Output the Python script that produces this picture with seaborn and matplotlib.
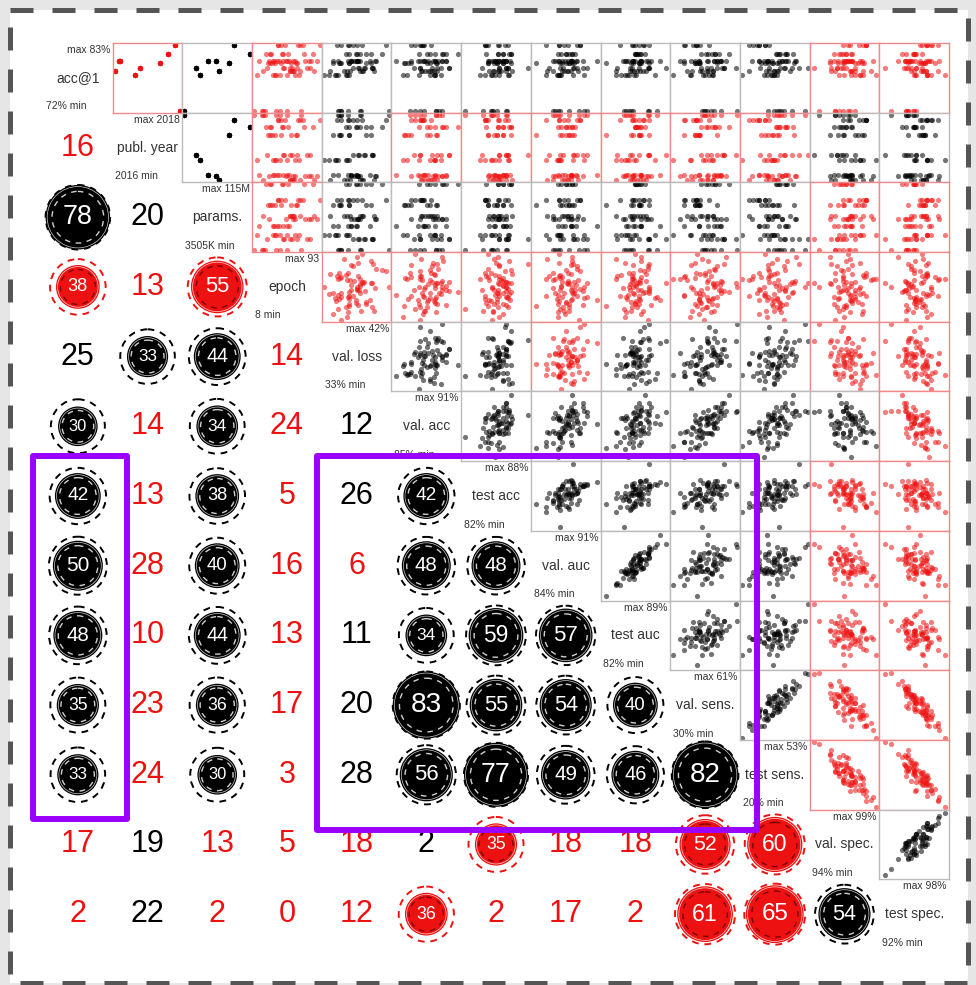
import matplotlib
matplotlib.use("Agg")
import matplotlib.pyplot as plt
from matplotlib.patches import Circle, Rectangle
import pandas as pd
import seaborn as sns

# ---------------------------------------------------------------- variables
VARIABLES = ["acc@1", "publ. year", "params.", "epoch", "val. loss", "val. acc",
             "test acc", "val. auc", "test auc", "val. sens.", "test sens.",
             "val. spec.", "test spec."]
RANGE_MIN = [72, 2016, 3.505, 8, 33, 85, 82, 84, 82, 30, 20, 94, 92]
RANGE_MAX = [83, 2018, 115, 93, 42, 91, 88, 91, 89, 61, 53, 99, 98]
MAX_LABELS = ["max 83%", "max 2018", "max 115M", "max 93", "max 42%", "max 91%",
              "max 88%", "max 91%", "max 89%", "max 61%", "max 53%", "max 99%",
              "max 98%"]
MIN_LABELS = ["72% min", "2016 min", "3505K min", "8 min", "33% min", "85% min",
              "82% min", "84% min", "82% min", "30% min", "20% min", "94% min",
              "92% min"]

# |correlation| x 100, lower triangle (row i holds columns 0..i-1)
CORR = [
    [],
    [16],
    [78, 20],
    [38, 13, 55],
    [25, 33, 44, 14],
    [30, 14, 34, 24, 12],
    [42, 13, 38, 5, 26, 42],
    [50, 28, 40, 16, 6, 48, 48],
    [48, 10, 44, 13, 11, 34, 59, 57],
    [35, 23, 36, 17, 20, 83, 55, 54, 40],
    [33, 24, 30, 3, 28, 56, 77, 49, 46, 82],
    [17, 19, 13, 5, 18, 2, 35, 18, 18, 52, 60],
    [2, 22, 2, 0, 12, 36, 2, 17, 2, 61, 65, 54],
]
# 1 where the correlation is negative
NEGATIVE = [
    [],
    [1],
    [0, 0],
    [1, 1, 1],
    [0, 0, 0, 1],
    [0, 1, 0, 1, 0],
    [0, 1, 0, 1, 0, 0],
    [0, 1, 0, 1, 1, 0, 0],
    [0, 1, 0, 1, 0, 0, 0, 0],
    [0, 1, 0, 1, 0, 0, 0, 0, 0],
    [0, 1, 0, 1, 0, 0, 0, 0, 0, 0],
    [1, 0, 1, 1, 1, 0, 1, 1, 1, 1, 1],
    [1, 0, 1, 1, 1, 1, 1, 1, 1, 1, 1, 0],
]
SIGNIFICANT_AT = 30

# ---------------------------------------------------------------- architectures
ARCH_ACC1 = [78.7, 80.4, 80.4, 77.9, 79.1, 80.0, 81.5, 83.0, 72.0]
ARCH_YEAR = [2016.0, 2016.17, 2016.13, 2016.62, 2016.77, 2017.38, 2017.62, 2017.85, 2018.0]
ARCH_PARAMS_M = [61.6, 44.4, 56.9, 29.6, 22.5, 79.4, 115.0, 87.7, 3.505]

# ---------------------------------------------------------------- training runs
RUN_ARCH = [0, 1, 2, 3, 4, 5, 6, 7, 8, 0, 1, 2, 3, 4, 5, 6, 7, 8,
            0, 1, 2, 3, 4, 5, 6, 7, 8, 0, 1, 2, 3, 4, 5, 6, 7, 8,
            0, 1, 2, 3, 4, 5, 6, 7, 8, 0, 1, 2, 3, 4, 5, 6, 7, 8,
            0, 1, 2, 3, 4, 5, 6, 7, 8, 0, 1, 2, 3, 4, 5, 6, 7, 8]
EPOCH = [55, 40, 27, 66, 80, 35, 52, 48, 22, 60, 38, 74, 12, 57, 43, 29, 68, 50,
         86, 33, 58, 41, 25, 63, 46, 93, 37, 54, 15, 49, 61, 77, 31, 44, 39, 69,
         20, 53, 82, 36, 47, 56, 24, 65, 42, 59, 34, 89, 51, 64, 28, 72, 39, 8,
         57, 46, 79, 32, 55, 26, 84, 43, 19, 67, 50, 61, 35, 45, 62, 30, 71, 18]
VAL_LOSS = [38.4, 34.9, 37.7, 36.0, 39.8, 35.1, 37.9, 37.6, 34.9, 36.6, 36.3, 40.1,
            36.2, 38.5, 34.2, 38.8, 36.3, 41.9, 35.8, 37.4, 37.1, 33.7, 39.6, 35.4,
            37.5, 38.2, 35.3, 38.0, 34.3, 40.0, 35.0, 37.0, 38.8, 36.4, 37.0, 35.1,
            39.9, 36.7, 37.7, 34.5, 37.8, 39.5, 36.1, 34.8, 37.9, 36.2, 39.4, 37.6,
            33.1, 37.7, 36.4, 41.0, 36.5, 35.4, 38.3, 36.7, 36.7, 34.7, 39.6, 36.5,
            39.5, 35.3, 38.1, 33.9, 37.6, 38.0, 36.5, 38.6, 35.2, 37.4, 41.5, 36.3]
VAL_ACC = [89.0, 85.2, 89.8, 88.8, 89.0, 86.3, 89.8, 87.8, 87.0, 87.6, 87.8, 89.1,
           85.9, 90.1, 88.3, 87.3, 88.4, 89.4, 87.5, 87.2, 89.4, 89.3, 87.4, 86.6,
           89.4, 87.0, 88.9, 88.2, 87.7, 88.8, 86.2, 88.5, 88.1, 90.9, 87.7, 86.5,
           87.9, 88.8, 88.6, 88.3, 86.9, 88.9, 88.1, 87.5, 89.2, 88.3, 88.2, 89.4,
           87.3, 87.4, 89.0, 88.3, 86.6, 87.4, 88.5, 89.8, 86.6, 88.7, 89.3, 86.0,
           89.5, 87.6, 87.8, 88.7, 87.9, 87.4, 88.8, 90.1, 86.1, 88.8, 87.4, 88.9]
TEST_ACC = [85.2, 84.9, 85.9, 84.9, 87.9, 85.1, 85.6, 86.1, 82.2, 84.4, 85.9, 84.3,
            85.3, 85.9, 85.6, 85.6, 84.0, 85.9, 84.8, 84.4, 85.6, 86.2, 86.1, 84.3,
            85.2, 84.3, 86.0, 85.3, 85.6, 84.6, 83.5, 85.3, 85.1, 86.4, 85.3, 84.5,
            84.7, 85.6, 85.0, 86.1, 83.7, 86.4, 85.2, 84.1, 85.1, 85.5, 86.3, 85.2,
            84.6, 85.3, 84.8, 86.4, 84.0, 84.6, 85.9, 84.8, 85.3, 84.5, 86.1, 84.3,
            86.2, 85.2, 83.8, 86.5, 85.9, 85.3, 84.0, 85.9, 85.6, 84.1, 85.8, 84.7]
VAL_AUC = [87.6, 86.7, 89.3, 86.9, 88.3, 88.2, 87.0, 89.0, 86.9, 86.1, 87.1, 88.7,
           86.7, 88.4, 88.4, 86.7, 87.7, 89.5, 85.5, 88.1, 87.7, 88.3, 87.2, 87.1,
           88.5, 86.8, 89.8, 87.7, 87.4, 86.2, 85.4, 88.7, 87.5, 88.2, 88.7, 86.1,
           87.3, 88.6, 86.8, 89.5, 86.9, 87.8, 87.8, 86.8, 86.4, 88.8, 90.8, 88.2,
           87.0, 85.7, 87.9, 87.5, 85.4, 88.9, 87.1, 88.1, 88.1, 86.8, 89.8, 84.3,
           88.2, 87.3, 87.9, 88.1, 88.2, 86.4, 86.6, 89.3, 86.9, 87.5, 89.0, 86.7]
TEST_AUC = [85.7, 84.7, 87.2, 84.0, 87.0, 85.9, 85.6, 86.9, 84.3, 85.3, 84.5, 86.8,
            84.4, 85.9, 86.9, 85.5, 85.2, 87.0, 83.4, 86.0, 86.6, 85.3, 85.1, 86.1,
            85.8, 85.5, 87.8, 84.9, 86.1, 84.2, 83.4, 86.8, 85.0, 86.5, 85.9, 84.8,
            86.3, 85.5, 84.4, 87.6, 84.9, 86.0, 85.7, 85.1, 85.2, 86.0, 88.1, 86.1,
            84.8, 83.5, 85.9, 86.0, 83.9, 86.8, 85.1, 86.1, 85.2, 85.6, 88.8, 82.4,
            86.1, 86.3, 85.0, 86.6, 85.2, 85.1, 84.6, 87.0, 85.2, 85.5, 86.4, 84.5]
VAL_SENS = [49.0, 35.7, 51.2, 45.4, 54.3, 42.4, 50.4, 39.7, 44.0, 37.1, 50.9, 49.8,
            38.6, 53.7, 42.6, 48.6, 41.0, 60.7, 44.2, 42.5, 53.0, 44.7, 46.3, 35.4,
            52.1, 41.8, 46.5, 49.0, 42.8, 46.5, 30.2, 50.9, 42.9, 56.9, 42.9, 45.3,
            39.4, 52.7, 40.6, 49.1, 43.6, 51.3, 46.0, 36.1, 52.9, 46.8, 46.7, 55.6,
            38.7, 48.2, 40.8, 50.1, 35.5, 45.0, 46.4, 53.0, 39.0, 47.3, 60.0, 41.9,
            46.9, 41.0, 49.6, 43.1, 49.7, 33.8, 48.7, 54.3, 40.6, 43.5, 47.2, 48.3]
TEST_SENS = [36.0, 31.2, 40.2, 34.4, 48.8, 37.4, 36.9, 28.7, 38.5, 23.6, 42.9, 33.3,
             32.6, 45.2, 31.6, 42.1, 28.5, 51.7, 37.7, 28.5, 46.5, 36.2, 39.3, 29.4,
             38.6, 31.8, 33.0, 44.0, 28.8, 40.0, 20.2, 40.9, 38.4, 45.4, 31.4, 37.8,
             31.9, 38.7, 35.1, 37.6, 29.1, 46.3, 37.5, 25.6, 44.9, 38.3, 32.7, 47.1,
             31.2, 33.7, 35.3, 41.6, 23.5, 41.0, 33.4, 41.5, 33.0, 36.3, 53.0, 35.4,
             42.4, 27.5, 36.1, 36.1, 42.2, 25.3, 35.2, 41.8, 33.1, 39.0, 33.7, 39.8]
VAL_SPEC = [97.0, 97.0, 96.6, 97.9, 95.5, 96.0, 97.0, 97.6, 96.4, 98.5, 95.7, 96.8,
            96.5, 96.6, 97.3, 95.7, 98.1, 94.6, 96.9, 96.9, 96.4, 97.7, 95.9, 98.0,
            96.4, 96.8, 97.3, 95.5, 97.8, 96.8, 98.9, 95.9, 97.5, 96.1, 96.9, 95.8,
            97.9, 96.5, 97.7, 96.1, 97.3, 95.4, 96.6, 98.1, 96.8, 95.8, 97.1, 95.4,
            97.7, 96.4, 97.8, 96.2, 98.1, 95.8, 97.3, 96.6, 97.1, 97.0, 94.2, 96.5,
            96.6, 97.9, 96.1, 97.1, 96.0, 98.7, 97.3, 96.2, 96.4, 97.1, 96.4, 96.9]
TEST_SPEC = [95.6, 96.4, 94.3, 96.2, 94.4, 95.6, 94.9, 96.5, 94.4, 97.2, 94.6, 94.7,
             96.2, 94.3, 95.8, 95.2, 96.2, 92.9, 95.8, 95.1, 94.2, 96.2, 95.2, 96.9,
             94.3, 95.7, 95.2, 94.7, 96.5, 94.5, 97.8, 94.7, 95.4, 93.9, 96.1, 95.0,
             96.1, 94.4, 96.3, 95.0, 95.2, 94.4, 95.7, 96.2, 94.4, 95.0, 95.5, 93.5,
             96.5, 95.7, 95.8, 95.0, 97.2, 94.3, 95.8, 94.2, 96.1, 95.1, 92.3, 96.0,
             95.1, 96.6, 94.3, 96.1, 94.8, 97.3, 95.2, 94.1, 96.0, 95.0, 95.5, 94.9]

runs = pd.DataFrame({
    "acc@1": [ARCH_ACC1[a] for a in RUN_ARCH],
    "publ. year": [ARCH_YEAR[a] for a in RUN_ARCH],
    "params.": [ARCH_PARAMS_M[a] for a in RUN_ARCH],
    "epoch": EPOCH,
    "val. loss": VAL_LOSS,
    "val. acc": VAL_ACC,
    "test acc": TEST_ACC,
    "val. auc": VAL_AUC,
    "test auc": TEST_AUC,
    "val. sens.": VAL_SENS,
    "test sens.": TEST_SENS,
    "val. spec.": VAL_SPEC,
    "test spec.": TEST_SPEC,
})

# ---------------------------------------------------------------- style
sns.set_theme(style="white")
plt.rcParams["font.family"] = ["Liberation Sans", "DejaVu Sans"]

RED = "#ee1111"
LABEL = "#333333"
FRAME_GRAY = "#bcbcbc"
FRAME_RED = "#f08a8a"
PURPLE = "#9900ff"

W, H = 976, 985
fig = plt.figure(figsize=(W / 100, H / 100), dpi=100, facecolor="#e6e6e6")

# white page with a pixel coordinate system
page = fig.add_axes([0, 0, 1, 1])
page.set_xlim(0, W)
page.set_ylim(H, 0)
page.axis("off")
page.add_patch(Rectangle((10, 10), 958, 973, facecolor="white", edgecolor="none"))

N = len(VARIABLES)
GX, GY = 43.0, 43.0
CELL = 906.0 / N


def cell_rect(i, j):
    return [(GX + j * CELL) / W, 1 - (GY + (i + 1) * CELL) / H, CELL / W, CELL / H]


# matrix canvas in cell units: column j spans [j, j+1], row i spans [i, i+1]
grid = fig.add_axes([GX / W, 1 - (GY + N * CELL) / H, N * CELL / W, N * CELL / H])
grid.set_xlim(0, N)
grid.set_ylim(N, 0)
grid.axis("off")
grid.patch.set_alpha(0)

# diagonal: variable name and its range
for k, name in enumerate(VARIABLES):
    grid.text(k + 0.5, k + 0.5, name, ha="center", va="center", fontsize=10, color=LABEL)
    grid.text(k + 0.965, k + 0.1, MAX_LABELS[k], ha="right", va="center",
              fontsize=7.5, color=LABEL)
    grid.text(k + 0.04, k + 0.91, MIN_LABELS[k], ha="left", va="center",
              fontsize=7.5, color=LABEL)

# lower triangle: plain numbers or discs sized by the correlation
px = 1.0 / CELL
for i in range(1, N):
    for j in range(i):
        v = CORR[i][j]
        neg = NEGATIVE[i][j]
        col = RED if neg else "black"
        cx, cy = j + 0.5, i + 0.5
        if v < SIGNIFICANT_AT:
            grid.text(cx, cy, str(v), color=col, fontsize=22, ha="center", va="center")
            continue
        r_disc = 12 + 0.26 * v
        r_outer = max(27 + 0.1 * (v - 30), r_disc)
        grid.add_patch(Circle((cx, cy), r_disc * px, facecolor=col, edgecolor="none"))
        grid.add_patch(Circle((cx, cy), r_outer * px, fill=False, edgecolor=col,
                              lw=1.4, linestyle=(0, (3.5, 3.0))))
        grid.add_patch(Circle((cx, cy), (r_disc - 1.6) * px, fill=False,
                              edgecolor="white", lw=0.5, alpha=0.8))
        grid.add_patch(Circle((cx, cy), 0.8 * r_disc * px, fill=False,
                              edgecolor="#7a0000" if neg else "#d0d0d0",
                              lw=1.0, linestyle=(0, (4, 4))))
        grid.text(cx, cy, str(v), color="white", fontsize=0.6 * r_disc,
                  ha="center", va="center")

# upper triangle: pairwise scatter plots
for i in range(N):
    for j in range(i + 1, N):
        neg = NEGATIVE[j][i]
        ax = fig.add_axes(cell_rect(i, j))
        sns.scatterplot(data=runs, x=VARIABLES[j], y=VARIABLES[i], ax=ax,
                        color=RED if neg else "black", s=14, alpha=0.55,
                        linewidth=0, legend=False)
        px_pad = 0.03 * (RANGE_MAX[j] - RANGE_MIN[j])
        py_pad = 0.03 * (RANGE_MAX[i] - RANGE_MIN[i])
        ax.set_xlim(RANGE_MIN[j] - px_pad, RANGE_MAX[j] + px_pad)
        ax.set_ylim(RANGE_MIN[i] - py_pad, RANGE_MAX[i] + py_pad)
        ax.set_xticks([])
        ax.set_yticks([])
        ax.set_xlabel("")
        ax.set_ylabel("")
        for sp in ax.spines.values():
            sp.set_color(FRAME_RED if neg else FRAME_GRAY)
            sp.set_linewidth(1.0)

# highlight boxes and dashed page border on top
top = fig.add_axes([0, 0, 1, 1])
top.set_xlim(0, W)
top.set_ylim(H, 0)
top.axis("off")
top.patch.set_alpha(0)
top.add_patch(Rectangle((33, 456), 94, 362.5, fill=False, edgecolor=PURPLE,
                        lw=4.3, joinstyle="round"))
top.add_patch(Rectangle((317, 456), 439.5, 374, fill=False, edgecolor=PURPLE,
                        lw=4.3, joinstyle="round"))
top.add_patch(Rectangle((9.5, 10), 958.5, 973, fill=False, edgecolor="#555555",
                        lw=3.6, linestyle=(0, (4.6, 3.8))))

fig.savefig("out.png", dpi=100, facecolor=fig.get_facecolor())
